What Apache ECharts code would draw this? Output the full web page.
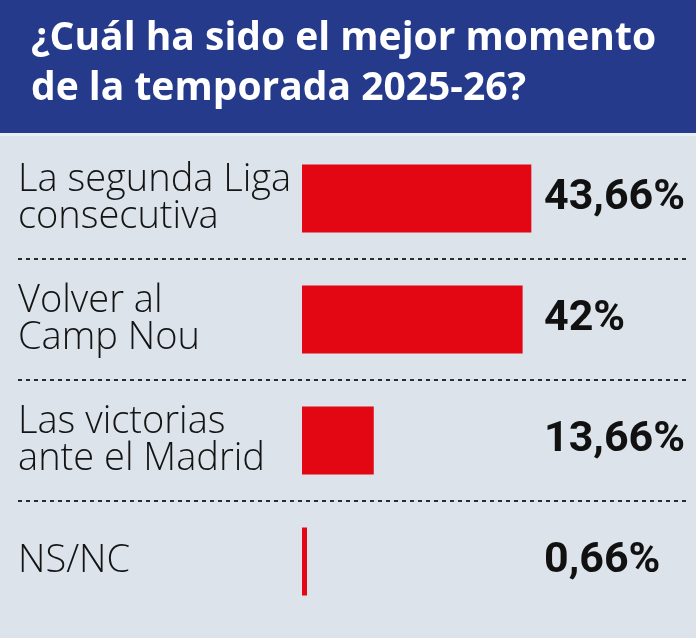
<!DOCTYPE html>
<html>
<head>
<meta charset="utf-8">
<script src="https://cdn.jsdelivr.net/npm/echarts@6/dist/echarts.min.js"></script>
<style>
	html, body { margin: 0; padding: 0; background: #dce3ea; }
	#chart { width: 696px; height: 638px; }
</style>
</head>
<body>
<div id="chart"></div>
<script>
var chart = echarts.init(document.getElementById('chart'));

// datos
var categorias = ['La segunda Liga\nconsecutiva', 'Volver al\nCamp Nou', 'Las victorias\nante el Madrid', 'NS/NC'];
var valores = [43.66, 42, 13.66, 0.66];
var etiquetas = valores.map(function (v) {
	return String(v).replace('.', ',') + '%';
});

var option = {
	backgroundColor: '#dce3ea',
	title: {
		text: '¿Cuál ha sido el mejor momento\nde la temporada 2025-26?',
		left: 26,
		top: 9,
		textStyle: {
			color: '#ffffff',
			fontFamily: 'Open Sans',
			fontWeight: 700,
			fontSize: 39,
			lineHeight: 50
		}
	},
	graphic: [{
		type: 'rect',
		z: -1,
		shape: { x: 0, y: 0, width: 696, height: 133 },
		style: { fill: '#253a8b' }
	}, {
		type: 'rect',
		z: -1,
		shape: { x: 0, y: 133, width: 696, height: 3 },
		style: { fill: '#e9eef4' }
	}],
	grid: [{
		// barras
		left: 302,
		right: 155,
		top: 138,
		height: 484
	}, {
		// separadores punteados
		left: 18,
		right: 6,
		top: 138,
		height: 484
	}],
	xAxis: [{
		gridIndex: 0,
		type: 'value',
		min: 0,
		max: 45.5,
		show: false
	}, {
		gridIndex: 1,
		type: 'value',
		min: 0,
		max: 1,
		show: false
	}],
	yAxis: [{
		gridIndex: 0,
		type: 'category',
		inverse: true,
		data: categorias,
		axisLine: { show: false },
		axisTick: { show: false },
		splitLine: { show: false },
		axisLabel: {
			align: 'left',
			margin: 284,
			color: '#141414',
			fontFamily: 'Open Sans',
			fontWeight: 300,
			fontSize: 38,
			lineHeight: 37
		}
	}, {
		gridIndex: 0,
		type: 'category',
		position: 'right',
		inverse: true,
		data: etiquetas,
		axisLine: { show: false },
		axisTick: { show: false },
		splitLine: { show: false },
		axisLabel: {
			align: 'left',
			margin: 3,
			color: '#111111',
			fontFamily: 'Roboto',
			fontWeight: 700,
			fontSize: 43
		}
	}, {
		gridIndex: 1,
		type: 'category',
		inverse: true,
		data: categorias,
		axisLine: { show: false },
		axisTick: { show: false },
		axisLabel: { show: false },
		splitLine: {
			show: true,
			showMinLine: false,
			showMaxLine: false,
			lineStyle: {
				color: '#2b2b2b',
				width: 2,
				type: [4, 4]
			}
		}
	}],
	series: [{
		type: 'bar',
		xAxisIndex: 0,
		yAxisIndex: 0,
		data: valores,
		barWidth: 68,
		barMinHeight: 5,
		itemStyle: { color: '#e30613' },
		silent: true
	}]
};
chart.setOption(option);
</script>
</body>
</html>
